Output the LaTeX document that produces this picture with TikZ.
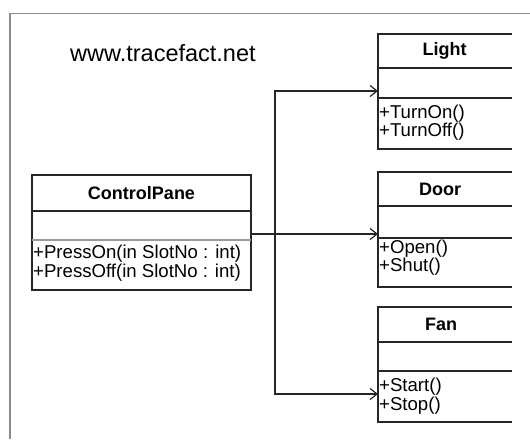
\documentclass[tikz,border=0pt]{standalone}
\usepackage{fontspec}
\setmainfont{Liberation Sans}
\usetikzlibrary{arrows.meta}
\tikzset{
	box/.style={line width=1.2pt, draw=black!85},
	frame/.style={line width=1.5pt, draw=black!45},
	title/.style={font=\fontsize{18}{18}\selectfont\bfseries, inner sep=0pt},
	op/.style={font=\fontsize{18.6}{18}\selectfont, inner sep=0pt, anchor=base west},
	link/.style={line width=1.2pt, draw=black!85, -{Straight Barb[length=7pt,width=11pt]}}
}
\begin{document}
\begin{tikzpicture}[x=1pt,y=-1pt]
	\useasboundingbox (0,0) rectangle (530,439);
	\draw[frame] (10,439) -- (10,13.5) -- (530,13.5);
	\node[font=\fontsize{23.5}{23.5}\selectfont, anchor=base west, inner sep=0pt] (site) at (70,61) {www.tracefact.net};
	% control pane
	\begin{scope}[shift={(32,175)}]
		\draw[box] (0,0) rectangle (219,115);
		\draw[box] (0,36) -- (219,36);
		\draw[line width=1.2pt, draw=black!40] (0,65) -- (219,65);
		\node[title] (pane) at (109.5,18) {ControlPane};
		\node[op] (pane-on) at (1,83) {+PressOn(in SlotNo : int)};
		\node[op] (pane-off) at (1,102) {+PressOff(in SlotNo : int)};
		\coordinate (pane-out) at (219,59);
	\end{scope}
	% devices, cut off on the right
		\begin{scope}[shift={(378,34)}]
			\draw[box] (134,0) -- (0,0) -- (0,115) -- (134,115);
			\draw[box] (0,34) -- (134,34);
			\draw[box] (0,64) -- (134,64);
			\node[title] (light) at (66.5,17) {Light};
			\node[op] (light-on) at (1,84) {+TurnOn()};
			\node[op] (light-off) at (1,102) {+TurnOff()};
			\coordinate (light-in) at (0,57);
		\end{scope}
		\begin{scope}[shift={(378,172)}]
			\draw[box] (134,0) -- (0,0) -- (0,115) -- (134,115);
			\draw[box] (0,34) -- (134,34);
			\draw[box] (0,66) -- (134,66);
			\node[title] (door) at (62,17) {Door};
			\node[op] (door-open) at (1,81) {+Open()};
			\node[op] (door-shut) at (1,99) {+Shut()};
			\coordinate (door-in) at (0,62);
		\end{scope}
		\begin{scope}[shift={(378,307)}]
			\draw[box] (134,0) -- (0,0) -- (0,115) -- (134,115);
			\draw[box] (0,35) -- (134,35);
			\draw[box] (0,64) -- (134,64);
			\node[title] (fan) at (63,17) {Fan};
			\node[op] (fan-start) at (1,84) {+Start()};
			\node[op] (fan-stop) at (1,103) {+Stop()};
			\coordinate (fan-in) at (0,87);
		\end{scope}
	% links
	\coordinate (hub) at (275,234);
	\draw[line width=1.2pt, draw=black!85] (pane-out) -- (hub);
	\draw[link] (hub) |- (light-in);
	\draw[link] (hub) -- (door-in);
	\draw[link] (hub) |- (fan-in);
\end{tikzpicture}
\end{document}
